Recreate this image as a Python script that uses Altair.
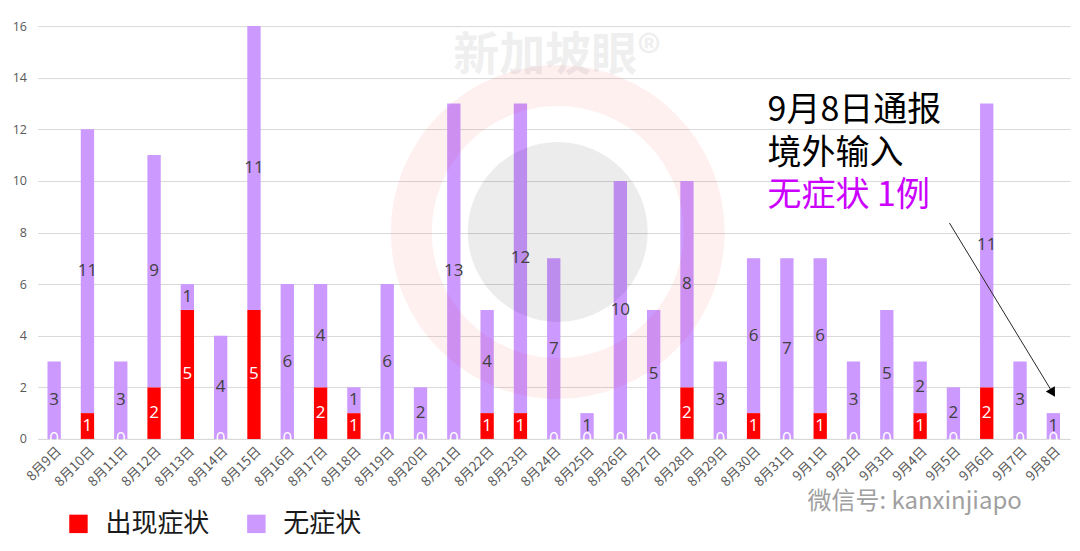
import altair as alt
import pandas as pd

# ---- data ----
dates = ["8月9日", "8月10日", "8月11日", "8月12日", "8月13日", "8月14日", "8月15日",
         "8月16日", "8月17日", "8月18日", "8月19日", "8月20日", "8月21日", "8月22日",
         "8月23日", "8月24日", "8月25日", "8月26日", "8月27日", "8月28日", "8月29日",
         "8月30日", "8月31日", "9月1日", "9月2日", "9月3日", "9月4日", "9月5日",
         "9月6日", "9月7日", "9月8日"]
symptomatic = [0, 1, 0, 2, 5, 0, 5, 0, 2, 1, 0, 0, 0, 1, 1, 0, 0, 0, 0, 2, 0, 1, 0, 1,
               0, 0, 1, 0, 2, 0, 0]
asymptomatic = [3, 11, 3, 9, 1, 4, 11, 6, 4, 1, 6, 2, 13, 4, 12, 7, 1, 10, 5, 8, 3, 6,
                7, 6, 3, 5, 2, 2, 11, 3, 1]
series_names = ["出现症状", "无症状"]
series_colors = ["#ff0000", "#cc99ff"]
y_ticks = [0, 2, 4, 6, 8, 10, 12, 14, 16]

# annotation text (anchored in data units: category index / value)
note_lines = ["9月8日通报", "境外输入", "无症状 1例"]
note_y = [12.7, 11.05, 9.4]
note_x = 21.92
arrow = {"x": 27.38, "y": 8.37, "x2": 30.48, "y2": 1.79}
watermark = {"x": 15.62, "y": 8.02, "tx": 15.6, "ty": 14.85,
             "text": "新加坡眼®", "wx": 23.12, "wy": -2.44,
             "wtext": "微信号: kanxinjiapo"}

rows = []
for i, d in enumerate(dates):
    rows.append({"date": d, "type": series_names[0], "value": symptomatic[i], "order": 0})
    rows.append({"date": d, "type": series_names[1], "value": asymptomatic[i], "order": 1})
df = pd.DataFrame(rows)

W, H = 1033, 413
CJK = "Noto Sans CJK SC"

band = alt.Scale(paddingInner=0.6, paddingOuter=0.3)
xenc = alt.X("date:N", sort=dates, scale=band,
             axis=alt.Axis(title=None, labelAngle=-45, labelAlign="right",
                           labelBaseline="top", labelFont=CJK, labelFontSize=13.5,
                           labelColor="#595959", ticks=False, labelPadding=5,
                           domainColor="#d9d9d9", grid=False))
xenc_quiet = alt.X("date:N", sort=dates, scale=band, axis=None)
yscale = alt.Scale(domain=[0, 16], nice=False)

base = alt.Chart(df).transform_stack(
    stack="value", groupby=["date"], as_=["y0", "y1"],
    sort=[alt.SortField("order", order="ascending")]
).transform_calculate(mid="(datum.y0 + datum.y1) / 2")

bars = base.mark_bar().encode(
    x=xenc,
    y=alt.Y("y0:Q", scale=yscale,
            axis=alt.Axis(title=None, values=y_ticks, labelFont="Open Sans",
                          labelFontSize=12.5, labelColor="#595959", ticks=False,
                          domain=False, gridColor="#d9d9d9", labelPadding=11)),
    y2="y1:Q",
    color=alt.Color("type:N",
                    scale=alt.Scale(domain=series_names, range=series_colors),
                    legend=alt.Legend(title=None, orient="none", legendX=28,
                                      legendY=485, direction="horizontal",
                                      symbolType="square", symbolSize=340,
                                      symbolStrokeWidth=0, labelFontSize=26,
                                      labelFont=CJK, labelColor="#1a1a1a",
                                      labelOffset=14, columnPadding=33, padding=0)),
)

lab_red = base.transform_filter(alt.datum.order == 0).mark_text(
    font="Open Sans", fontSize=17, color="#ffffff", baseline="middle").encode(
    x=xenc_quiet, y=alt.Y("mid:Q", scale=yscale), text="value:Q")
lab_pur = base.transform_filter(alt.datum.order == 1).mark_text(
    font="Open Sans", fontSize=17, color="#404040", baseline="middle").encode(
    x=xenc_quiet, y=alt.Y("mid:Q", scale=yscale), text="value:Q")

cx = alt.Scale(domain=[0, 31], nice=False, zero=False)
wm_df = pd.DataFrame([watermark])

ring = alt.Chart(wm_df).mark_point(shape="circle", filled=False, size=85849,
                                   strokeWidth=41, color="#ff0000",
                                   strokeOpacity=0.08).encode(
    x=alt.X("x:Q", scale=cx, axis=None), y=alt.Y("y:Q", scale=yscale))
disk = alt.Chart(wm_df).mark_point(shape="circle", filled=True, size=32400,
                                   color="#000000", opacity=0.075,
                                   strokeWidth=0).encode(
    x=alt.X("x:Q", scale=cx, axis=None), y=alt.Y("y:Q", scale=yscale))
wm_text = alt.Chart(wm_df).mark_text(font=CJK, fontSize=46, fontWeight="bold",
                                     color="#000000", opacity=0.06,
                                     baseline="middle").encode(
    x=alt.X("tx:Q", scale=cx, axis=None), y=alt.Y("ty:Q", scale=yscale),
    text="text:N")
wx_text = alt.Chart(wm_df).mark_text(font=CJK, fontSize=24, color="#a0a0a0",
                                     align="left", baseline="middle").encode(
    x=alt.X("wx:Q", scale=cx, axis=None), y=alt.Y("wy:Q", scale=yscale),
    text="wtext:N")

note_df = pd.DataFrame({"t": note_lines, "y": note_y, "x": [note_x] * 3,
                        "c": ["a", "a", "b"]})
notes = alt.Chart(note_df).mark_text(font=CJK, fontSize=34, align="left",
                                     baseline="middle").encode(
    x=alt.X("x:Q", scale=cx, axis=None), y=alt.Y("y:Q", scale=yscale),
    text="t:N",
    color=alt.Color("c:N", scale=alt.Scale(domain=["a", "b"],
                                           range=["#000000", "#cc00ff"]),
                    legend=None))

arr_df = pd.DataFrame([arrow])
arr_line = alt.Chart(arr_df).mark_rule(color="#262626", strokeWidth=1).encode(
    x=alt.X("x:Q", scale=cx, axis=None), y=alt.Y("y:Q", scale=yscale),
    x2="x2:Q", y2="y2:Q")
arr_head = alt.Chart(arr_df).mark_point(shape="triangle-down", filled=True,
                                        size=110, angle=329, color="#000000",
                                        opacity=1).encode(
    x=alt.X("x2:Q", scale=cx, axis=None), y=alt.Y("y2:Q", scale=yscale))

chart = alt.layer(
    bars, ring, disk, wm_text, lab_red, lab_pur, notes, arr_line, arr_head, wx_text
).resolve_scale(x="independent", color="independent").properties(
    width=W, height=H,
    autosize=alt.AutoSizeParams(type="none"),
    padding={"left": 29.5, "top": 18, "right": 2, "bottom": 100},
).configure_view(stroke=None)

chart.save("out.html", embed_options={"renderer": "svg", "actions": False})
